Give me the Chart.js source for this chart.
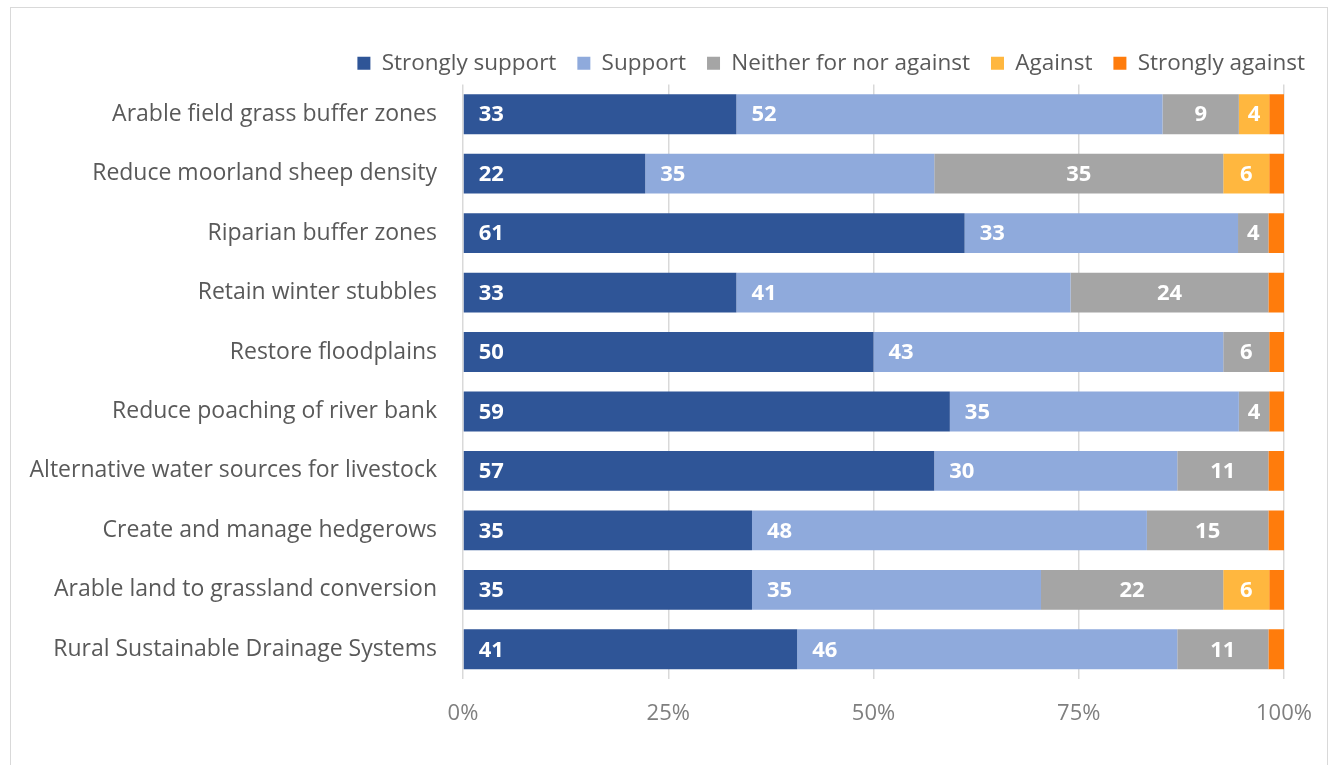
<!DOCTYPE html>
<html>
<head>
<meta charset="utf-8">
<script src="https://cdn.jsdelivr.net/npm/chart.js@4.4.0/dist/chart.umd.min.js"></script>
<style>
  html, body { margin: 0; padding: 0; background: #ffffff; overflow: hidden; }
  #frame {
    position: absolute;
    left: 10px;
    top: 7px;
    width: 1318px;
    height: 780px;
    border: 1px solid #d9d9d9;
    box-sizing: border-box;
  }
  #chart { display: block; }
</style>
</head>
<body>
<div id="frame">
  <canvas id="chart" width="1316" height="757"></canvas>
</div>
<script>
// measures, top to bottom as listed
const measures = [
  "Arable field grass buffer zones",
  "Reduce moorland sheep density",
  "Riparian buffer zones",
  "Retain winter stubbles",
  "Restore floodplains",
  "Reduce poaching of river bank",
  "Alternative water sources for livestock",
  "Create and manage hedgerows",
  "Arable land to grassland conversion",
  "Rural Sustainable Drainage Systems"
];

// share of respondents (%) for each answer
const stronglySupport = [33.3, 22.2, 61.1, 33.3, 50.0, 59.3, 57.4, 35.2, 35.2, 40.7];
const support         = [51.9, 35.2, 33.3, 40.7, 42.6, 35.2, 29.6, 48.1, 35.2, 46.3];
const neither         = [9.3, 35.2, 3.7, 24.1, 5.6, 3.7, 11.1, 14.8, 22.2, 11.1];
const against         = [3.7, 5.6, 0, 0, 0, 0, 0, 0, 5.6, 0];
const stronglyAgainst = [1.9, 1.9, 1.9, 1.9, 1.9, 1.9, 1.9, 1.9, 1.9, 1.9];

const answerNames = ["Strongly support", "Support", "Neither for nor against", "Against", "Strongly against"];
const answerColors = ["#2f5597", "#8faadc", "#a5a5a5", "#ffb73f", "#ff7c0c"];
const percentTicks = [0, 25, 50, 75, 100];

const FONT = "'Open Sans', Lato, sans-serif";

// white value labels: base-aligned for the two support bars, centred for the rest
const valueLabels = {
  id: "valueLabels",
  afterDatasetsDraw(chart) {
    const ctx = chart.ctx;
    ctx.save();
    ctx.fillStyle = "#ffffff";
    ctx.font = "bold 22px " + FONT;
    ctx.textBaseline = "middle";
    chart.data.datasets.forEach((ds, i) => {
      const meta = chart.getDatasetMeta(i);
      meta.data.forEach((bar, j) => {
        const v = ds.data[j];
        if (v < 3) return;
        const p = bar.getProps(["x", "y", "base"], true);
        const txt = String(Math.round(v));
        if (i < 2) {
          ctx.textAlign = "left";
          ctx.fillText(txt, p.base + 15, p.y + 1);
        } else {
          ctx.textAlign = "center";
          ctx.fillText(txt, (p.base + p.x) / 2, p.y + 1);
        }
      });
    });
    ctx.restore();
  }
};

const seriesData = [stronglySupport, support, neither, against, stronglyAgainst];

new Chart(document.getElementById("chart"), {
  type: "bar",
  data: {
    labels: measures,
    datasets: seriesData.map((d, i) => ({
      label: answerNames[i],
      data: d,
      backgroundColor: answerColors[i],
      borderWidth: 0,
      categoryPercentage: 1,
      barPercentage: 0.67
    }))
  },
  options: {
    indexAxis: "y",
    responsive: false,
    animation: false,
    layout: { padding: { top: 23, right: 1, bottom: 0, left: 0 } },
    plugins: {
      tooltip: { enabled: false },
      legend: {
        position: "top",
        align: "end",
        labels: {
          boxWidth: 13,
          boxHeight: 13,
          padding: 21,
          color: "#595959",
          font: { family: FONT, size: 22.5 }
        }
      }
    },
    scales: {
      x: {
        stacked: true,
        min: 0,
        max: 100,
        afterBuildTicks(scale) {
          scale.ticks = percentTicks.map(v => ({ value: v }));
        },
        afterFit(scale) {
          scale.height = 86;
          // the right edge is set by the spacer axis, not by the "100%" label
          scale.paddingLeft = 0;
          scale.paddingRight = 0;
        },
        grid: { color: "#d9d9d9", lineWidth: 1.5, drawTicks: false },
        border: { display: false },
        ticks: {
          padding: 22,
          color: "#7f7f7f",
          font: { family: FONT, size: 22 },
          callback: v => v + "%"
        }
      },
      y: {
        stacked: true,
        afterFit(scale) { scale.width = 452; },
        grid: { display: false, drawTicks: false },
        border: { display: false },
        ticks: {
          padding: 26,
          color: "#595959",
          font: { family: FONT, size: 23 }
        }
      },
      spacer: {
        axis: "y",
        type: "category",
        position: "right",
        afterFit(scale) { scale.width = 42; },
        grid: { display: false, drawTicks: false },
        border: { display: false },
        ticks: { display: false }
      }
    }
  },
  plugins: [valueLabels]
});
</script>
</body>
</html>
